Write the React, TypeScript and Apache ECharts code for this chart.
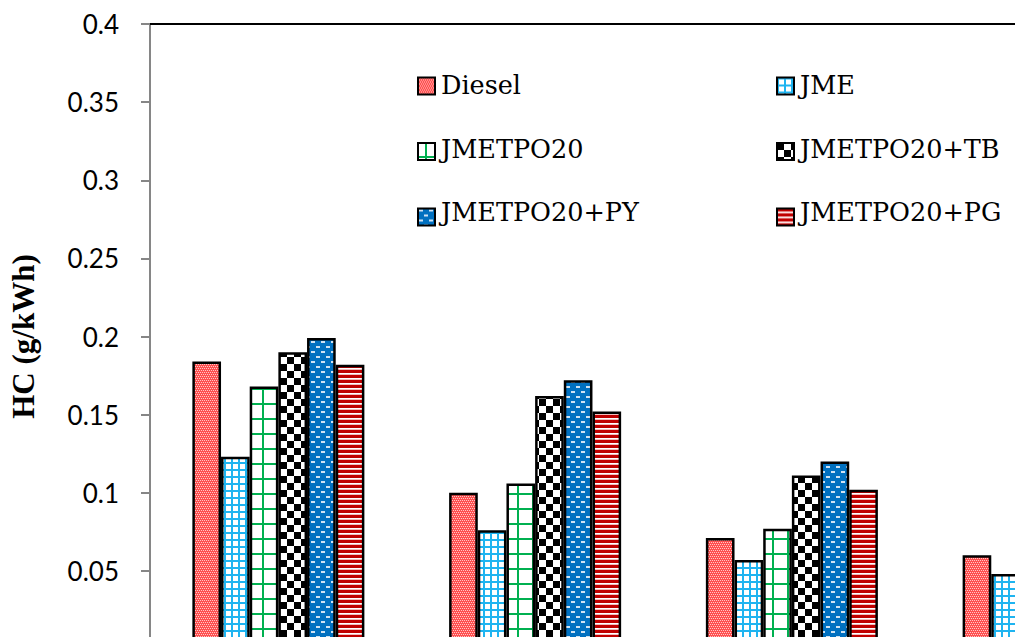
import React, { useEffect, useRef } from "react";
import * as echarts from "echarts";

const categories = ["25%", "50%", "75%", "100%"];
const seriesNames = ["Diesel", "JME", "JMETPO20", "JMETPO20+TB", "JMETPO20+PY", "JMETPO20+PG"];
const diesel = [0.184, 0.1, 0.071, 0.06];
const jme = [0.123, 0.076, 0.057, 0.048];
const jmetpo20 = [0.168, 0.106, 0.077, 0.062];
const jmetpo20Tb = [0.19, 0.162, 0.111, 0.09];
const jmetpo20Py = [0.199, 0.172, 0.12, 0.1];
const jmetpo20Pg = [0.182, 0.152, 0.102, 0.085];
const yTicks = { min: 0, max: 0.4, interval: 0.05 };
const legendLeft = ["Diesel", "JMETPO20", "JMETPO20+PY"];
const legendRight = ["JME", "JMETPO20+TB", "JMETPO20+PG"];

const SERIF_BOLD = "Liberation Serif";
const SERIF_REGULAR = "DejaVu Serif";

function makePattern(w: number, h: number, draw: (ctx: CanvasRenderingContext2D) => void) {
  const c = document.createElement("canvas");
  c.width = w;
  c.height = h;
  const ctx = c.getContext("2d") as CanvasRenderingContext2D;
  draw(ctx);
  return { image: c, repeat: "repeat" };
}

function buildPatterns() {
  const dieselP = makePattern(8, 8, (ctx) => {
    ctx.fillStyle = "#FF5050";
    ctx.fillRect(0, 0, 8, 8);
    ctx.fillStyle = "#FFC8C8";
    for (let y = 0; y < 8; y += 2) {
      for (let x = (y / 2) % 2; x < 8; x += 2) {
        ctx.fillRect(x, y, 1, 1);
      }
    }
  });
  const jmeP = makePattern(7, 7, (ctx) => {
    ctx.fillStyle = "#FFFFFF";
    ctx.fillRect(0, 0, 7, 7);
    ctx.fillStyle = "#1FB4F0";
    ctx.fillRect(0, 0, 2, 7);
    ctx.fillRect(0, 0, 7, 2);
  });
  const jmetpoP = makePattern(15, 15, (ctx) => {
    ctx.fillStyle = "#FFFFFF";
    ctx.fillRect(0, 0, 15, 15);
    ctx.fillStyle = "#00B050";
    ctx.fillRect(7, 0, 2, 15);
    ctx.fillRect(0, 13, 15, 2);
  });
  const tbP = makePattern(14, 14, (ctx) => {
    ctx.fillStyle = "#FFFFFF";
    ctx.fillRect(0, 0, 14, 14);
    ctx.fillStyle = "#000000";
    ctx.fillRect(0, 0, 7, 7);
    ctx.fillRect(7, 7, 7, 7);
  });
  const pyP = makePattern(10, 10, (ctx) => {
    ctx.fillStyle = "#0070C0";
    ctx.fillRect(0, 0, 10, 10);
    ctx.fillStyle = "#CFE2F3";
    ctx.fillRect(1, 1, 4, 2);
    ctx.fillRect(6, 6, 4, 2);
  });
  const pgP = makePattern(4, 5, (ctx) => {
    ctx.fillStyle = "#C00000";
    ctx.fillRect(0, 0, 4, 3);
    ctx.fillStyle = "#FFFFFF";
    ctx.fillRect(0, 3, 4, 1);
    ctx.fillStyle = "#F2BCBC";
    ctx.fillRect(0, 4, 4, 1);
  });
  return [dieselP, jmeP, jmetpoP, tbP, pyP, pgP];
}

const LEGEND_TOP = 69;
const LEGEND_ROW = 63.5;
const LEGEND_ICON = 17;
const LEGEND_COLS = [417, 776];

export default function App() {
  const ref = useRef<HTMLDivElement>(null);

  useEffect(() => {
    if (!ref.current) return;
    const chart = echarts.init(ref.current, null, { renderer: "svg" });
    const patterns = buildPatterns();
    const values = [diesel, jme, jmetpo20, jmetpo20Tb, jmetpo20Py, jmetpo20Pg];

    const makeLegend = (left: number, data: string[]) => ({
      orient: "vertical",
      top: LEGEND_TOP + (32 - LEGEND_ICON) / 2,
      left,
      padding: 0,
      itemWidth: LEGEND_ICON,
      itemHeight: LEGEND_ICON,
      itemGap: LEGEND_ROW - LEGEND_ICON,
      itemTextGap: 0,
      icon: "rect",
      itemStyle: { borderColor: "#000", borderWidth: 2 },
      formatter: () => "",
      data,
    });

    const legendTexts: any[] = [];
    [legendLeft, legendRight].forEach((names, col) => {
      names.forEach((name, row) => {
        legendTexts.push({
          type: "text",
          x: LEGEND_COLS[col] + LEGEND_ICON + 7,
          y: LEGEND_TOP + 16 + row * LEGEND_ROW,
          style: {
            text: name,
            fontFamily: SERIF_REGULAR,
            fontWeight: "normal",
            fontSize: 25.5,
            fill: "#000",
            verticalAlign: "middle",
            align: "left",
          },
        });
      });
    });

    chart.setOption({
      animation: false,
      backgroundColor: "#fff",
      grid: { left: 148, top: 24, right: 0, bottom: 0, containLabel: false },
      legend: [makeLegend(LEGEND_COLS[0], legendLeft), makeLegend(LEGEND_COLS[1], legendRight)],
      graphic: legendTexts,
      xAxis: [
        {
          type: "category",
          data: categories,
          position: "bottom",
          axisLine: { lineStyle: { color: "#868686", width: 2 } },
          axisTick: { show: false },
          axisLabel: { show: false },
        },
        {
          type: "category",
          data: categories,
          position: "top",
          axisLine: { lineStyle: { color: "#000", width: 2 } },
          axisTick: { show: false },
          axisLabel: { show: false },
        },
      ],
      yAxis: {
        type: "value",
        min: yTicks.min,
        max: yTicks.max,
        interval: yTicks.interval,
        name: "HC (g/kWh)",
        nameLocation: "middle",
        nameGap: 111,
        nameTextStyle: {
          fontFamily: SERIF_BOLD,
          fontWeight: "bold",
          fontSize: 31,
          color: "#000",
        },
        axisLine: { show: true, lineStyle: { color: "#868686", width: 2 } },
        axisTick: { show: true, length: 9, lineStyle: { color: "#868686", width: 2 } },
        axisLabel: {
          margin: 31,
          showMinLabel: false,
          fontFamily: "Lato",
          fontSize: 26,
          color: "#000",
        },
        splitLine: { show: false },
      },
      series: seriesNames.map((name, i) => ({
        name,
        type: "bar",
        xAxisIndex: 0,
        data: values[i],
        barGap: "0%",
        barCategoryGap: "33%",
        itemStyle: {
          color: patterns[i],
          borderColor: "#000",
          borderWidth: 2.5,
        },
      })),
    });

    return () => chart.dispose();
  }, []);

  return (
    <div
      style={{ position: "absolute", left: 0, top: 0, width: 1015, height: 637, overflow: "hidden" }}
    >
      <div ref={ref} style={{ width: 1177, height: 649 }} />
    </div>
  );
}
